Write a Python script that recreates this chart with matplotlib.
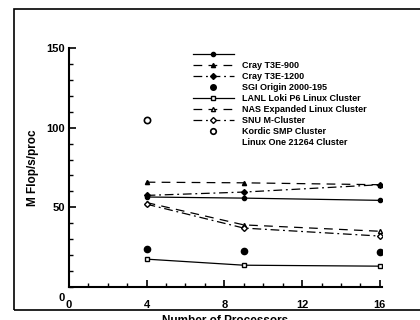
"""
MFlop/s per processor vs. number of processors, several cluster systems.
"""

import matplotlib
matplotlib.use("Agg")
import matplotlib.pyplot as plt
from matplotlib.lines import Line2D
from matplotlib.patches import Rectangle

procs = [4, 9, 16]

cray_t3e_900 = [65.8, 65.4, 64.2]      # dashed, triangle
cray_t3e_1200 = [57.5, 59.6, 64.2]     # dash-dot, diamond
solid_circle = [56.5, 55.8, 54.4]      # solid, filled circle
sgi_origin = [23.7, 22.5, 22.0]        # points only
lanl_loki = [17.5, 13.7, 13.1]         # solid, open square
nas_linux = [53.0, 39.0, 35.0]         # dashed, open triangle
snu_cluster = [52.0, 37.0, 32.0]       # dash-dot, open diamond
kordic_x = [4]
kordic = [105.0]

legend_labels = ["", "Cray T3E-900", "Cray T3E-1200", "SGI Origin 2000-195",
                 "LANL Loki P6 Linux Cluster", "NAS Expanded Linux Cluster",
                 "SNU M-Cluster", "Kordic SMP Cluster", "Linux One 21264 Cluster"]

plt.rcParams["font.family"] = ["Liberation Sans", "DejaVu Sans"]
plt.rcParams["font.weight"] = "bold"

fig = plt.figure(figsize=(4.2, 3.2), dpi=100)
ax = fig.add_axes([0.164, 0.103, 0.745, 0.747])

lw = 0.9
dash = (0, (7, 5))
dashdot = (0, (7, 3, 1.5, 3))
kw = dict(color="black", lw=lw, ms=3)

ax.plot(procs, solid_circle, ls="-", marker="o", **kw)
ax.plot(procs, cray_t3e_900, ls=dash, marker="^", **kw)
ax.plot(procs, cray_t3e_1200, ls=dashdot, marker="D", **kw)
ax.plot(procs, sgi_origin, ls="none", marker="o", color="black", ms=4.5)
ax.plot(procs, lanl_loki, ls="-", marker="s", mfc="white", **kw)
ax.plot(procs, nas_linux, ls=dash, marker="^", mfc="white", **kw)
ax.plot(procs, snu_cluster, ls=dashdot, marker="D", mfc="white", **kw)
ax.plot(kordic_x, kordic, ls="none", marker="o", mfc="white", color="black", ms=4.5, mew=1.2)

handles = [
    Line2D([], [], ls="-", marker="o", **kw),
    Line2D([], [], ls=dash, marker="^", **kw),
    Line2D([], [], ls=dashdot, marker="D", **kw),
    Line2D([], [], ls="none", marker="o", color="black", ms=4),
    Line2D([], [], ls="-", marker="s", mfc="white", **kw),
    Line2D([], [], ls=dash, marker="^", mfc="white", **kw),
    Line2D([], [], ls=dashdot, marker="D", mfc="white", **kw),
    Line2D([], [], ls="none", marker="o", mfc="white", color="black", ms=4, mew=1.2),
    Line2D([], [], ls="none"),
]
ax.legend(handles, legend_labels, loc="upper left", bbox_to_anchor=(0.385, 1.005),
          frameon=False, fontsize=6.5, handlelength=4.5, handletextpad=0.9,
          labelspacing=0.22, borderaxespad=0)

ax.set_xlim(0, 16.1)
ax.set_ylim(0, 150)
ax.set_xticks([0, 4, 8, 12, 16])
ax.set_xticklabels(["0", "4", "8", "12", "16"])
ax.set_xticks(range(0, 17), minor=True)
ax.set_yticks([50, 100, 150])
ax.set_yticks(range(0, 151, 10), minor=True)
ax.tick_params(direction="in", length=5, width=1.2, labelsize=8)
ax.tick_params(which="minor", direction="in", length=3, width=1)
ax.tick_params(axis="x", pad=9)
ax.tick_params(axis="y", pad=3)
for side in ["top", "right"]:
    ax.spines[side].set_visible(False)
for side in ["left", "bottom"]:
    ax.spines[side].set_linewidth(1.5)

ax.text(-0.012, -0.045, "0", transform=ax.transAxes, fontsize=8,
        fontweight="bold", ha="right", va="center")
ax.set_ylabel("M Flop/s/proc", fontsize=8.5, fontweight="bold", labelpad=5)
fig.text(0.535, -0.002, "Number of Processors", fontsize=8.5,
         fontweight="bold", ha="center", va="center")

# scanned page frame
fig.add_artist(Rectangle((0.033, 0.031), 1.2, 0.94, transform=fig.transFigure,
                         fill=False, lw=1.2, color="black"))

fig.savefig("out.png", dpi=100)
